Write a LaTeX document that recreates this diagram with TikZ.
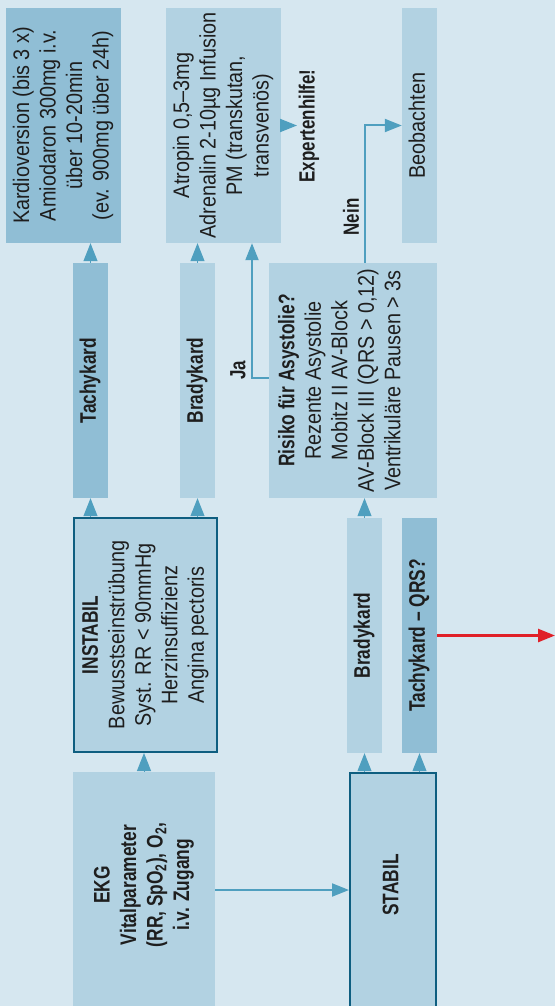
\documentclass[tikz,border=0pt]{standalone}
\usepackage{fontspec}
\setmainfont{Liberation Sans}[FakeStretch=0.88]
\newfontfamily\bfn{Liberation Sans}[FakeStretch=0.77]
\usepackage{graphicx}
\usetikzlibrary{arrows.meta}
\definecolor{bgc}{RGB}{214,231,240}
\definecolor{lightc}{RGB}{178,210,226}
\definecolor{darkc}{RGB}{144,190,213}
\definecolor{borderc}{RGB}{14,94,128}
\definecolor{arrowc}{RGB}{79,159,191}
\definecolor{redc}{RGB}{224,32,40}
\definecolor{txtc}{RGB}{30,30,30}
\newcommand\Bf[1]{{\bfn\bfseries #1}}
\newcommand\rtxt[2][0pt]{\rotatebox{90}{\hspace*{#1}\begin{tabular}{@{}c@{}}#2\end{tabular}}}
\tikzset{
  boxbase/.style={rectangle, inner sep=0pt, text=txtc, font={\fontsize{22.5}{26.5}\selectfont}},
  lbox/.style={boxbase, fill=lightc},
  dbox/.style={boxbase, fill=darkc},
  bbox/.style={boxbase, fill=lightc, draw=borderc, line width=2pt},
  lab/.style={inner sep=0pt, text=txtc, font={\fontsize{22}{24}\bfn\bfseries}},
  gaparrow/.style={draw=arrowc, line width=1pt, -{Triangle[width=14pt,length=18pt]}},
  conn/.style={draw=arrowc, line width=2pt, -{Triangle[width=13pt,length=17pt]}},
  redarrow/.style={draw=redc, line width=2.5pt, -{Triangle[width=13pt,length=17pt]}}
}
\begin{document}
\begin{tikzpicture}[x=1pt,y=-1pt]
\useasboundingbox (0,0) rectangle (555,1006);
\clip (0,0) rectangle (555,1006);
\fill[bgc] (0,0) rectangle (555,1006);

% row 1
\node[dbox, minimum width=115pt, minimum height=235pt] (kard) at (63.5,125.5)
  {\rtxt{Kardioversion (bis 3 x)\\ Amiodaron 300mg i.v.\\ über 10-20min\\ (ev. 900mg über 24h)}};
\node[lbox, minimum width=115pt, minimum height=235pt] (atr) at (223.5,125.5)
  {\rtxt{Atropin 0,5–3mg\\ Adrenalin 2-10µg Infusion\\ PM (transkutan,\\ transvenös)}};
\node[lbox, minimum width=35pt, minimum height=235pt] (beo) at (419.5,125.5)
  {\rtxt{Beobachten}};

% row 2
\node[dbox, minimum width=35pt, minimum height=235pt] (tach) at (90.5,380.5)
  {\rtxt{\Bf{Tachykard}}};
\node[lbox, minimum width=35pt, minimum height=235pt] (brone) at (197.5,380.5)
  {\rtxt{\Bf{Bradykard}}};
\node[lbox, minimum width=168pt, minimum height=235pt] (risk) at (353,380.5)
  {\rtxt{\Bf{Risiko für Asystolie?}\\ Rezente Asystolie\\ Mobitz II AV-Block\\ AV-Block III (QRS > 0,12)\\ Ventrikuläre Pausen > 3s\\[22pt]}};

% row 3
\node[bbox, minimum width=143pt, minimum height=234pt] (inst) at (145.5,635)
  {\rtxt{\Bf{INSTABIL}\\ Bewusstseinstrübung\\ Syst. RR < 90mmHg\\ Herzinsuffizienz\\ Angina pectoris}};
\node[lbox, minimum width=35pt, minimum height=235pt] (brtwo) at (364.5,635.5)
  {\rtxt{\Bf{Bradykard}}};
\node[dbox, minimum width=35pt, minimum height=235pt] (tqrs) at (419.5,635.5)
  {\rtxt{\Bf{Tachykard – QRS?}}};

% row 4
\node[lbox, minimum width=142pt, minimum height=240pt] (ekg) at (144,892)
  {\rtxt[14pt]{\Bf{EKG}\\ \Bf{Vitalparameter}\\ \Bf{(RR, SpO\textsubscript{2}), O\textsubscript{2},}\\ \Bf{i.v. Zugang}}};
\node[bbox, minimum width=86pt, minimum height=238pt] (stabil) at (393,892)
  {\rtxt[14pt]{\Bf{STABIL}}};

% labels
\node[lab] (ja) at (238,370) {\rotatebox{90}{Ja}};
\node[lab] (nein) at (351,217) {\rotatebox{90}{Nein}};
\node[lab] (expert) at (309,126) {\rotatebox{90}{Expertenhilfe!}};

% gap arrows
\draw[gaparrow] (tach.north) -- (tach.north |- kard.south);
\draw[gaparrow] (brone.north) -- (brone.north |- atr.south);
\draw[gaparrow] (tach.south |- inst.north) -- (tach.south);
\draw[gaparrow] (brone.south |- inst.north) -- (brone.south);
\draw[gaparrow] (ekg.north) -- (ekg.north |- inst.south);
\draw[gaparrow] (brtwo.north) -- (brtwo.north |- risk.south);
\draw[gaparrow] (brtwo.south |- stabil.north) -- (brtwo.south);
\draw[gaparrow] (tqrs.south |- stabil.north) -- (tqrs.south);

% connectors
\draw[conn] ([yshift=2.5pt]risk.west) -| ([xshift=28.5pt]atr.south);
\draw[conn] ([xshift=12pt]risk.north) |- (beo.west);
\coordinate (expend) at (297,125.5);
\draw[conn] (atr.east) -- (expend);
\draw[conn] ([yshift=2pt]ekg.east) -- ([yshift=2pt]stabil.west);
\coordinate (redend) at (555,635.5);
\draw[redarrow] (tqrs.east) -- (redend);
\end{tikzpicture}
\end{document}
